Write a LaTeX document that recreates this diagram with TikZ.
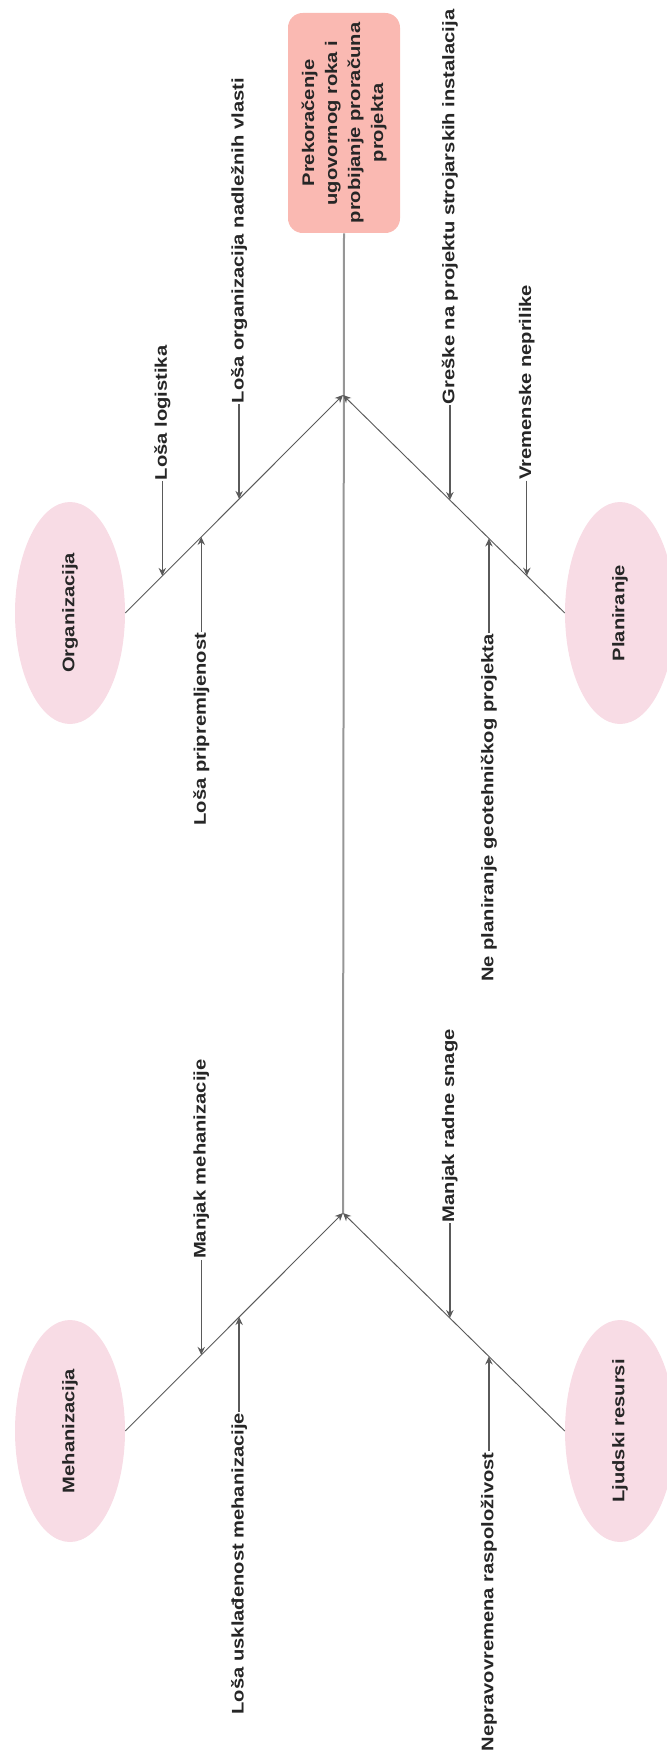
\documentclass[tikz,border=0pt]{standalone}
\usepackage{fontspec}
\setmainfont{Liberation Sans}[FakeStretch=1.2]
\usepackage{xcolor}
\usepackage{tikz}
\usetikzlibrary{arrows.meta,shapes.geometric,calc}
\definecolor{headred}{RGB}{250, 185, 178}
\definecolor{catpink}{RGB}{248, 220, 229}
\definecolor{textgray}{RGB}{38, 38, 38}
\definecolor{spinegray}{RGB}{150, 150, 150}
\definecolor{linegray}{RGB}{90, 90, 90}

\begin{document}
\begin{tikzpicture}[x=0.75pt, y=-0.75pt,
    every node/.style={font=\fontsize{12.6}{17.25}\selectfont\bfseries, text=textgray},
    headbox/.style={rounded corners=11pt, fill=headred, minimum width=165pt, minimum height=84pt, align=center, rotate=90, inner sep=2pt},
    category/.style={ellipse, fill=catpink, minimum width=166.5pt, minimum height=82.5pt, inner sep=0pt, rotate=90},
    cause/.style={rotate=90, inner sep=0.5pt},
    spine/.style={draw=spinegray, line width=1.5pt},
    bone/.style={draw=linegray, line width=0.7pt, -{Stealth[length=6pt, width=5.5pt]}},
    causearrow/.style={draw=linegray, line width=1pt, -{Stealth[length=6pt, width=5.5pt]}}]
            \useasboundingbox (0,0) rectangle (667,1755);

            % Head
            \node[headbox] (head) at (344,123) {Prekoračenje\\ugovornog roka i\\probijanje proračuna\\projekta};

            % Categories
            \node[category] (org) at (70,613) {Organizacija};
            \node[category] (pla) at (620,613) {Planiranje};
            \node[category] (meh) at (70,1431) {Mehanizacija};
            \node[category] (ljr) at (620,1431) {Ljudski resursi};

            % Spine and bones
            \coordinate (j1) at (343,395);
            \coordinate (j2) at (343,1213);
            \draw[spine] (head.west) -- (j2);
            \draw[bone] (org.south) -- (j1);
            \draw[bone] (pla.north) -- (j1);
            \draw[bone] (meh.south) -- (j2);
            \draw[bone] (ljr.north) -- (j2);

            % Organizacija
            \coordinate (t1) at ($(org.south)!0.17!(j1)$);
            \coordinate (t2) at ($(org.south)!0.349!(j1)$);
            \coordinate (t3) at ($(org.south)!0.523!(j1)$);
            \node[cause, anchor=west] (c1) at ($(t1)+(0,-95)$) {Loša logistika};
            \node[cause, anchor=east] (c2) at ($(t2)+(0,95)$) {Loša pripremljenost};
            \node[cause, anchor=west] (c3) at ($(t3)+(0,-95)$) {Loša organizacija nadležnih vlasti};
            \draw[causearrow] (c1.west) -- (t1);
            \draw[causearrow] (c2.east) -- (t2);
            \draw[causearrow] (c3.west) -- (t3);

            % Planiranje
            \coordinate (t4) at ($(j1)!0.482!(pla.north)$);
            \coordinate (t5) at ($(j1)!0.658!(pla.north)$);
            \coordinate (t6) at ($(j1)!0.829!(pla.north)$);
            \node[cause, anchor=west] (c4) at ($(t4)+(0,-95)$) {Greške na projektu strojarskih instalacija};
            \node[cause, anchor=east] (c5) at ($(t5)+(0,95)$) {Ne planiranje geotehničkog projekta};
            \node[cause, anchor=west] (c6) at ($(t6)+(0,-95)$) {Vremenske neprilike};
            \draw[causearrow] (c4.west) -- (t4);
            \draw[causearrow] (c5.east) -- (t5);
            \draw[causearrow] (c6.west) -- (t6);

            % Mehanizacija
            \coordinate (t7) at ($(meh.south)!0.349!(j2)$);
            \coordinate (t8) at ($(meh.south)!0.523!(j2)$);
            \node[cause, anchor=west] (c7) at ($(t7)+(0,-95)$) {Manjak mehanizacije};
            \node[cause, anchor=east] (c8) at ($(t8)+(0,95)$) {Loša usklađenost mehanizacije};
            \draw[causearrow] (c7.west) -- (t7);
            \draw[causearrow] (c8.east) -- (t8);

            % Ljudski resursi
            \coordinate (t9) at ($(j2)!0.482!(ljr.north)$);
            \coordinate (t10) at ($(j2)!0.658!(ljr.north)$);
            \node[cause, anchor=west] (c9) at ($(t9)+(0,-95)$) {Manjak radne snage};
            \node[cause, anchor=east] (c10) at ($(t10)+(0,95)$) {Nepravovremena raspoloživost};
            \draw[causearrow] (c9.west) -- (t9);
            \draw[causearrow] (c10.east) -- (t10);
        \end{tikzpicture}
\end{document}
